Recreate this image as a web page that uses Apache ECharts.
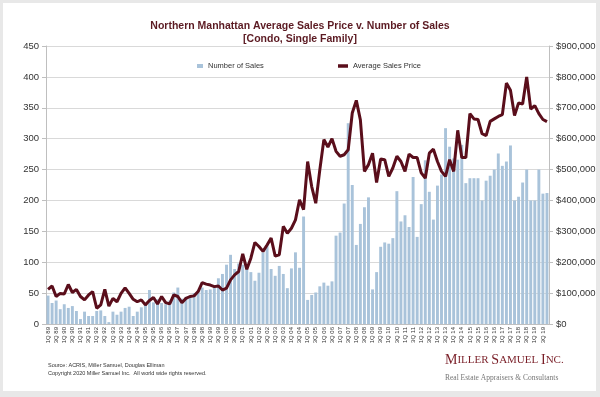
<!DOCTYPE html>
<html>
<head>
<meta charset="utf-8">
<script src="https://cdn.jsdelivr.net/npm/echarts@6/dist/echarts.min.js"></script>
<style>
html,body{margin:0;padding:0;background:#e8e8e8;}
#card{position:absolute;left:3px;top:3px;width:593px;height:388px;background:#ffffff;}
#chart{position:absolute;left:0;top:0;width:600px;height:397px;}
</style>
</head>
<body>
<div id="card"></div>
<div id="chart"></div>
<script>
// Quarter labels
const categories = [
 '1Q 89','2Q 89','3Q 89','4Q 89','1Q 90','2Q 90','3Q 90','4Q 90','1Q 91','2Q 91','3Q 91','4Q 91',
 '1Q 92','2Q 92','3Q 92','4Q 92','1Q 93','2Q 93','3Q 93','4Q 93','1Q 94','2Q 94','3Q 94','4Q 94',
 '1Q 95','2Q 95','3Q 95','4Q 95','1Q 96','2Q 96','3Q 96','4Q 96','1Q 97','2Q 97','3Q 97','4Q 97',
 '1Q 98','2Q 98','3Q 98','4Q 98','1Q 99','2Q 99','3Q 99','4Q 99','1Q 00','2Q 00','3Q 00','4Q 00',
 '1Q 01','2Q 01','3Q 01','4Q 01','1Q 02','2Q 02','3Q 02','4Q 02','1Q 03','2Q 03','3Q 03','4Q 03',
 '1Q 04','2Q 04','3Q 04','4Q 04','1Q 05','2Q 05','3Q 05','4Q 05','1Q 06','2Q 06','3Q 06','4Q 06',
 '1Q 07','2Q 07','3Q 07','4Q 07','1Q 08','2Q 08','3Q 08','4Q 08','1Q 09','2Q 09','3Q 09','4Q 09',
 '1Q 10','2Q 10','3Q 10','4Q 10','1Q 11','2Q 11','3Q 11','4Q 11','1Q 12','2Q 12','3Q 12','4Q 12',
 '1Q 13','2Q 13','3Q 13','4Q 13','1Q 14','2Q 14','3Q 14','4Q 14','1Q 15','2Q 15','3Q 15','4Q 15',
 '1Q 16','2Q 16','3Q 16','4Q 16','1Q 17','2Q 17','3Q 17','4Q 17','1Q 18','2Q 18','3Q 18','4Q 18',
 '1Q 19','2Q 19','3Q 19','4Q 19'
];

// Number of sales (left axis)
const numberOfSales = [
 46, 34, 38, 24, 32, 26, 29, 21, 8, 20,
 13, 13, 21, 22, 13, 3, 20, 15, 20, 26,
 28, 13, 20, 27, 32, 55, 35, 40, 34, 32,
 38, 51, 59, 41, 44, 44, 50, 54, 59, 55,
 56, 59, 74, 81, 96, 112, 89, 98, 96, 89,
 84, 70, 83, 116, 128, 89, 78, 94, 81, 58,
 90, 116, 91, 174, 39, 47, 51, 61, 67, 62,
 69, 143, 148, 195, 325, 225, 128, 162, 189, 205,
 56, 84, 125, 132, 130, 139, 215, 166, 176, 157,
 238, 141, 194, 265, 214, 169, 224, 242, 317, 287,
 268, 266, 290, 228, 236, 236, 236, 200, 232, 240,
 250, 276, 256, 263, 289, 200, 206, 229, 250, 200,
 200, 250, 211, 212
];

// Average sales price (right axis), dollars
const averageSalesPrice = [
 112000, 123000, 89000, 99000, 97000, 128000, 102000, 112000, 89000, 78000,
 94000, 105000, 51000, 62000, 112000, 58000, 83000, 72000, 99000, 117000,
 99000, 80000, 72000, 78000, 62000, 76000, 86000, 65000, 89000, 69000,
 65000, 94000, 89000, 69000, 83000, 89000, 91000, 105000, 134000, 129000,
 126000, 121000, 123000, 110000, 116000, 143000, 159000, 170000, 227000, 177000,
 213000, 264000, 251000, 235000, 256000, 278000, 220000, 224000, 316000, 294000,
 310000, 337000, 402000, 370000, 526000, 445000, 391000, 499000, 597000, 573000,
 600000, 559000, 543000, 548000, 564000, 683000, 724000, 661000, 494000, 516000,
 553000, 458000, 534000, 532000, 478000, 505000, 543000, 526000, 494000, 550000,
 539000, 539000, 489000, 472000, 553000, 566000, 526000, 494000, 478000, 532000,
 494000, 627000, 539000, 539000, 681000, 664000, 662000, 616000, 610000, 656000,
 664000, 672000, 678000, 780000, 757000, 675000, 716000, 712000, 800000, 696000,
 707000, 681000, 662000, 655000
];

const leftTicks = {min: 0, max: 450, interval: 50};
const rightTicks = {min: 0, max: 900000, interval: 100000};

const chart = echarts.init(document.getElementById('chart'), null, {renderer: 'canvas'});
const FONT = 'Liberation Sans, Arial, sans-serif';
const SERIF = 'Liberation Serif, Times New Roman, serif';

chart.setOption({
  animation: false,
  textStyle: {fontFamily: FONT},
  title: {
    text: 'Northern Manhattan Average Sales Price v. Number of Sales\n[Condo, Single Family]',
    left: 'center',
    top: 15,
    textStyle: {fontSize: 10.5, fontWeight: 'bold', color: '#5b1a22', lineHeight: 12.5, fontFamily: FONT}
  },
  legend: [
    {data: ['Number of Sales'], left: 192, top: 57, icon: 'rect', itemWidth: 6, itemHeight: 4,
     textStyle: {fontSize: 7.5, color: '#333', fontFamily: FONT}},
    {data: ['Average Sales Price'], left: 333, top: 57, icon: 'rect', itemWidth: 10, itemHeight: 3.5,
     textStyle: {fontSize: 7.5, color: '#333', fontFamily: FONT}}
  ],
  grid: {left: 46, right: 51, top: 46, bottom: 73, containLabel: false},
  xAxis: {
    type: 'category',
    data: categories,
    boundaryGap: true,
    axisLine: {lineStyle: {color: '#bfbfbf'}},
    axisTick: {show: false},
    axisLabel: {interval: 1, rotate: 90, fontSize: 6, color: '#333', margin: 3, fontFamily: FONT}
  },
  yAxis: [
    {
      type: 'value', min: leftTicks.min, max: leftTicks.max, interval: leftTicks.interval,
      axisLine: {show: true, lineStyle: {color: '#bfbfbf'}},
      axisTick: {show: true, length: 4, lineStyle: {color: '#bfbfbf'}},
      axisLabel: {fontSize: 9.5, color: '#333', margin: 7, fontFamily: FONT},
      splitLine: {show: true, lineStyle: {color: '#d9d9d9', width: 1}}
    },
    {
      type: 'value', min: rightTicks.min, max: rightTicks.max, interval: rightTicks.interval,
      axisLine: {show: true, lineStyle: {color: '#bfbfbf'}},
      axisTick: {show: true, length: 4, lineStyle: {color: '#bfbfbf'}},
      axisLabel: {fontSize: 9.5, color: '#333', margin: 7, fontFamily: FONT,
        formatter: v => '$' + v.toString().replace(/\B(?=(\d{3})+(?!\d))/g, ',')},
      splitLine: {show: false}
    }
  ],
  series: [
    {
      name: 'Number of Sales', type: 'bar', data: numberOfSales, yAxisIndex: 0,
      barCategoryGap: '28%',
      itemStyle: {color: '#a9c3da'}, z: 2
    },
    {
      name: 'Average Sales Price', type: 'line', data: averageSalesPrice, yAxisIndex: 1,
      symbol: 'none', lineStyle: {color: '#5a0e1b', width: 3}, itemStyle: {color: '#5a0e1b'}, z: 3
    }
  ],
  graphic: [
    {type: 'text', left: 48, top: 362, style: {text: 'Source: ACRIS, Miller Samuel, Douglas Elliman', fontSize: 5.5, fill: '#333', fontFamily: FONT}},
    {type: 'text', left: 48, top: 370.5, style: {text: 'Copyright 2020 Miller Samuel Inc.  All world wide rights reserved.', fontSize: 5.5, fill: '#333', fontFamily: FONT}},
    {type: 'text', left: 445, top: 353, style: {
      text: '{b|M}{s|ILLER }{b|S}{s|AMUEL }{b|I}{s|NC.}',
      rich: {
        b: {fontSize: 14, fontFamily: SERIF, fill: '#7a1f28', color: '#7a1f28'},
        s: {fontSize: 11, fontFamily: SERIF, fill: '#7a1f28', color: '#7a1f28'}
      }
    }},
    {type: 'text', left: 445, top: 374, style: {text: 'Real Estate Appraisers & Consultants', fontSize: 7.5, fill: '#777', fontFamily: SERIF}}
  ]
});
</script>
</body>
</html>
